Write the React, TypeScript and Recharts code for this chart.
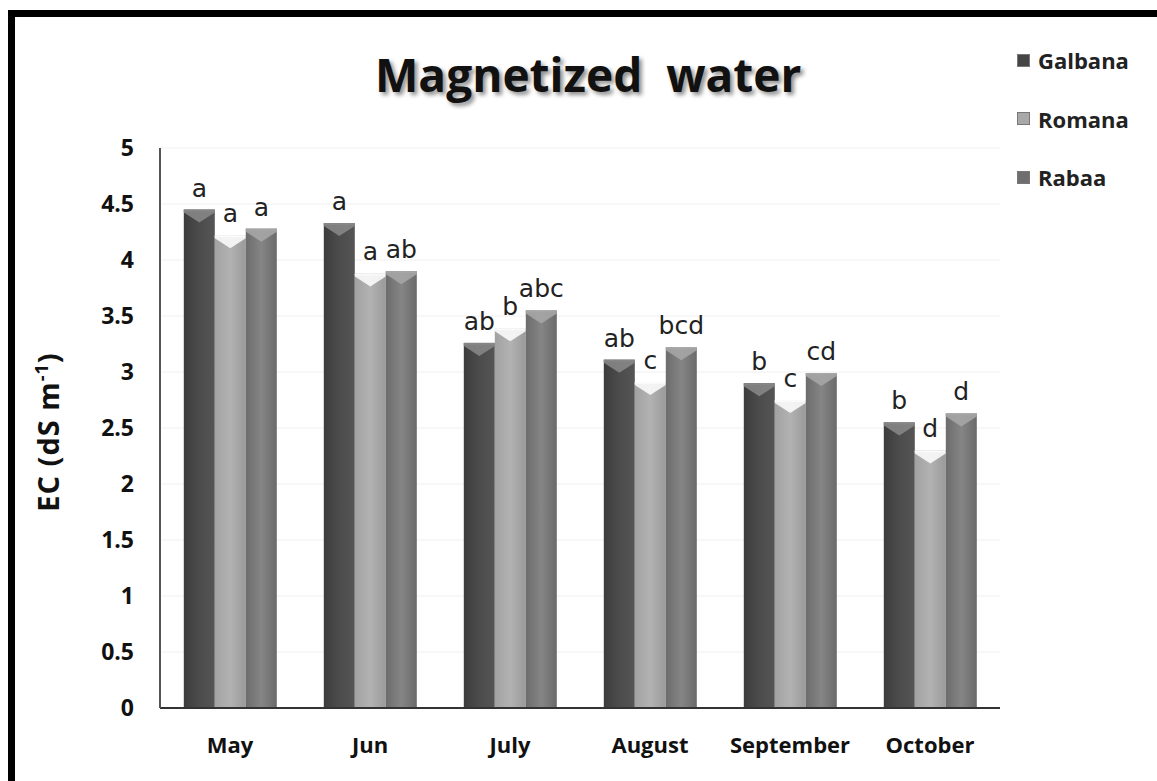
import React from 'react';
import { BarChart, Bar, XAxis, YAxis, CartesianGrid, LabelList } from 'recharts';

const months = ['May', 'Jun', 'July', 'August', 'September', 'October'];
const galbana = [4.45, 4.33, 3.26, 3.11, 2.9, 2.55];
const romana = [4.22, 3.88, 3.39, 2.91, 2.75, 2.3];
const rabaa = [4.28, 3.9, 3.55, 3.22, 2.99, 2.63];
const galbanaLetters = ['a', 'a', 'ab', 'ab', 'b', 'b'];
const romanaLetters = ['a', 'a', 'b', 'c', 'c', 'd'];
const rabaaLetters = ['a', 'ab', 'abc', 'bcd', 'cd', 'd'];
const yTicks = [0, 0.5, 1, 1.5, 2, 2.5, 3, 3.5, 4, 4.5, 5];

const data = months.map((m, i) => ({
  month: m,
  Galbana: galbana[i],
  Romana: romana[i],
  Rabaa: rabaa[i],
  gL: galbanaLetters[i],
  rL: romanaLetters[i],
  bL: rabaaLetters[i],
}));

const series = [
  { key: 'Galbana', letters: 'gL', grad: 'gGal', dark: '#555555', mid: '#4c4c4c', light: '#3c3c3c', cap: '#8a8a8a', swatch: '#454545' },
  { key: 'Romana', letters: 'rL', grad: 'gRom', dark: '#9a9a9a', mid: '#b2b2b2', light: '#a2a2a2', cap: '#ffffff', swatch: '#a8a8a8' },
  { key: 'Rabaa', letters: 'bL', grad: 'gRab', dark: '#6a6a6a', mid: '#858585', light: '#6c6c6c', cap: '#a8a8a8', swatch: '#6e6e6e' },
];

const makeShape = (grad: string, cap: string) => (props: any) => {
  const { x, y, width, height } = props;
  if (!height || height <= 0) return null;
  const ch = Math.min(13, height);
  return (
    <g>
      <rect x={x} y={y} width={width} height={height} fill={`url(#${grad})`} />
      <polygon
        points={`${x},${y} ${x + width},${y} ${x + width},${y + 3} ${x + width / 2},${y + ch} ${x},${y + 3}`}
        fill={cap}
        opacity={0.85}
      />
      <rect x={x} y={y} width={width} height={2} fill={cap} opacity={0.6} />
    </g>
  );
};

const YLabel = () => (
  <text
    x={0}
    y={0}
    transform="translate(59,432) rotate(-90)"
    textAnchor="middle"
    style={{ fontFamily: 'Open Sans, sans-serif', fontWeight: 700, fontSize: 29, fill: '#111', letterSpacing: 1 }}
  >
    EC (dS m<tspan dy={-11} fontSize={18}>-1</tspan>
    <tspan dy={11}>)</tspan>
  </text>
);

export default function App() {
  return (
    <div style={{ position: 'absolute', left: 0, top: 0, width: 1157, height: 781, background: '#fff', overflow: 'hidden' }}>
      <div style={{ position: 'absolute', left: 8, top: 10, width: 1149, height: 7, background: '#000' }} />
      <div style={{ position: 'absolute', left: 8, top: 10, width: 7, height: 771, background: '#000' }} />
      <div
        style={{
          position: 'absolute',
          left: 375,
          top: 43,
          fontFamily: 'Open Sans, sans-serif',
          fontWeight: 700,
          fontSize: 46,
          color: '#111',
          textShadow: '3px 3px 4px rgba(0,0,0,0.45)',
          whiteSpace: 'pre',
          lineHeight: 'normal',
        }}
      >
        {'Magnetized  water'}
      </div>
      <div
        style={{
          position: 'absolute',
          left: 1017,
          top: 31,
          fontFamily: 'Open Sans, sans-serif',
          fontWeight: 700,
          fontSize: 22,
          color: '#222',
        }}
      >
        {series.map((s) => (
          <div key={s.key} style={{ display: 'flex', alignItems: 'center', height: 58.5 }}>
            <div
              style={{
                width: 13,
                height: 13,
                background: s.swatch,
                marginRight: 8,
                border: '1px solid #777',
                boxSizing: 'border-box',
              }}
            />
            <span>{s.key}</span>
          </div>
        ))}
      </div>
      <div style={{ position: 'absolute', left: 0, top: 0 }}>
        <BarChart
          width={1157}
          height={781}
          data={data}
          margin={{ top: 148, right: 157, bottom: 43, left: 100 }}
          barCategoryGap="17%"
          barGap={0}
        >
          <defs>
            {series.map((s) => (
              <linearGradient key={s.grad} id={s.grad} x1="0" y1="0" x2="1" y2="0">
                <stop offset="0%" stopColor={s.light} />
                <stop offset="50%" stopColor={s.mid} />
                <stop offset="100%" stopColor={s.dark} />
              </linearGradient>
            ))}
          </defs>
          <CartesianGrid vertical={false} stroke="#f0f0f0" />
          <XAxis
            dataKey="month"
            axisLine={{ stroke: '#333', strokeWidth: 2 }}
            tickLine={false}
            tick={{ fontFamily: 'Open Sans, sans-serif', fontWeight: 700, fontSize: 22, fill: '#111' }}
            tickMargin={23}
          />
          <YAxis
            width={60}
            domain={[0, 5]}
            ticks={yTicks}
            axisLine={{ stroke: '#555', strokeWidth: 2 }}
            tickLine={false}
            tick={{ fontFamily: 'Open Sans, sans-serif', fontWeight: 700, fontSize: 23, fill: '#111' }}
            tickMargin={20}
          />
          {series.map((s) => (
            <Bar key={s.key} dataKey={s.key} isAnimationActive={false} shape={makeShape(s.grad, s.cap)}>
              <LabelList
                dataKey={s.letters}
                position="top"
                offset={13}
                style={{ fontFamily: 'DejaVu Sans, sans-serif', fontSize: 25, fill: '#222' }}
              />
            </Bar>
          ))}
          <YLabel />
        </BarChart>
      </div>
    </div>
  );
}
